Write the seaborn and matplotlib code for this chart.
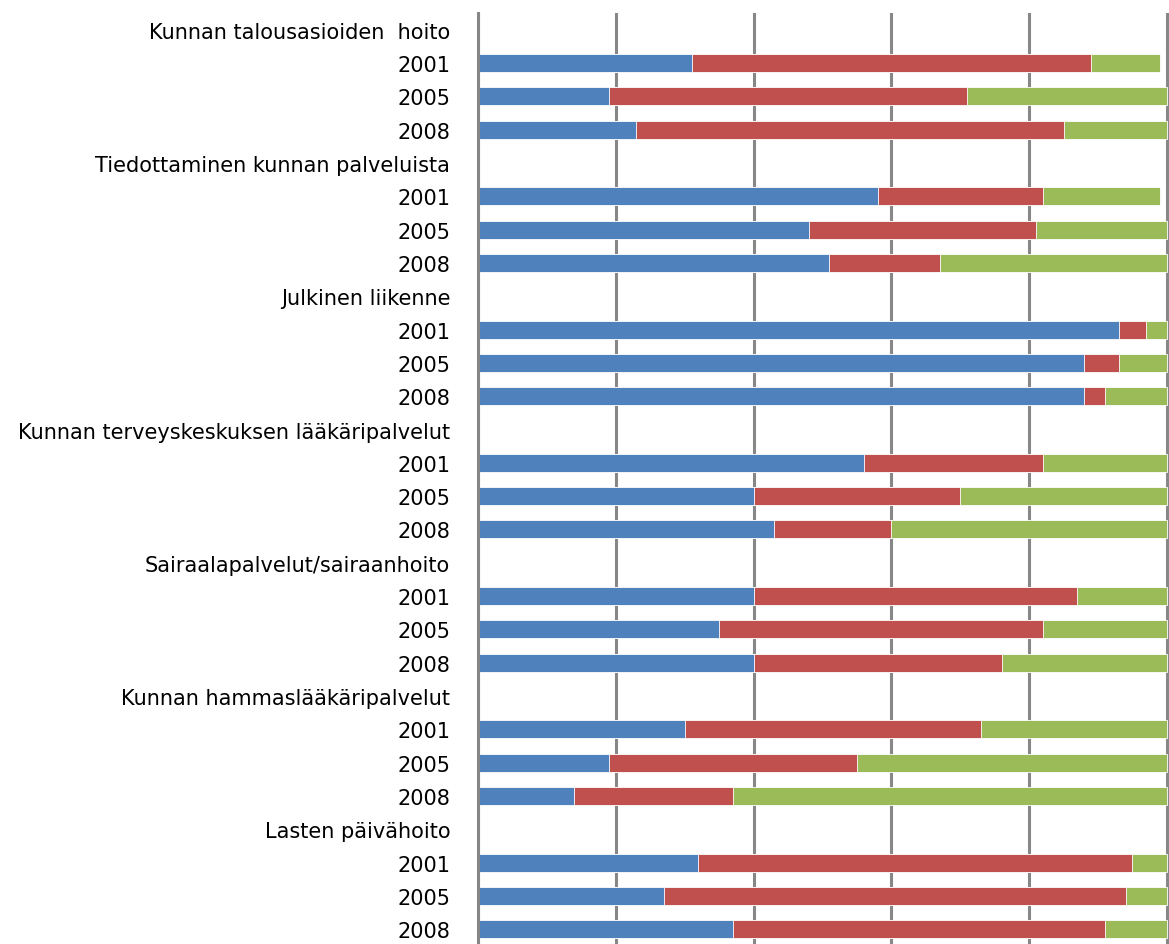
import numpy as np
import pandas as pd
import matplotlib
matplotlib.use('Agg')
import matplotlib.pyplot as plt
import seaborn as sns

categories = ['Kunnan talousasioiden  hoito', 'Tiedottaminen kunnan palveluista', 'Julkinen liikenne',
              'Kunnan terveyskeskuksen lääkäripalvelut', 'Sairaalapalvelut/sairaanhoito',
              'Kunnan hammaslääkäripalvelut', 'Lasten päivähoito']
years = ['2001', '2005', '2008']

# shares in %, per category: 2001, 2005, 2008
blue = [[31, 19, 23], [58, 48, 51], [93, 88, 88], [56, 40, 43], [40, 35, 40], [30, 19, 14], [32, 27, 37]]
red = [[58, 52, 62], [24, 33, 16], [4, 5, 3], [26, 30, 17], [47, 47, 36], [43, 36, 23], [63, 67, 54]]
green = [[10, 29, 15], [17, 19, 33], [3, 7, 9], [18, 30, 40], [13, 18, 24], [27, 45, 63], [5, 6, 9]]

rows = []
for i, cat in enumerate(categories):
    rows.append(dict(key=f'{i}-h', label=cat, b=np.nan, r=np.nan, g=np.nan))
    for j, yr in enumerate(years):
        rows.append(dict(key=f'{i}-{yr}', label=yr, b=blue[i][j], r=red[i][j], g=green[i][j]))
df = pd.DataFrame(rows)
df['c1'] = df['b']
df['c2'] = df['b'] + df['r']
df['c3'] = df['b'] + df['r'] + df['g']

plt.rcParams['font.family'] = ['DejaVu Sans']
fig = plt.figure(figsize=(11.69, 9.45), dpi=100)
ax = fig.add_axes([478 / 1169, -2 / 945, 691 / 1169, 933 / 945])

order = list(df['key'])
kw = dict(y='key', order=order, orient='h', errorbar=None, width=0.54, ax=ax,
          edgecolor='white', linewidth=0.6)
sns.barplot(data=df, x='c3', color='#9BBB59', saturation=1, **kw)
sns.barplot(data=df, x='c2', color='#C0504D', saturation=1, **kw)
sns.barplot(data=df, x='c1', color='#4F81BD', saturation=1, **kw)

ax.set_xlim(0, 100.3)
ax.set_ylim(len(order) - 0.5, -0.5)
ax.set_xticks([0, 20, 40, 60, 80, 100])
ax.xaxis.grid(True, color='#878787', linewidth=2.2)
ax.set_axisbelow(True)
ax.tick_params(axis='x', length=0, labelbottom=False)
ax.tick_params(axis='y', length=0, pad=20, labelsize=15)
ax.set_yticks(range(len(order)))
ax.set_yticklabels(df['label'])
ax.set_xlabel('')
ax.set_ylabel('')
for s in ax.spines.values():
    s.set_visible(False)
ax.spines['left'].set_visible(True)
ax.spines['left'].set_color('#878787')
ax.spines['left'].set_linewidth(2.2)

fig.savefig('out.png', dpi=100)
